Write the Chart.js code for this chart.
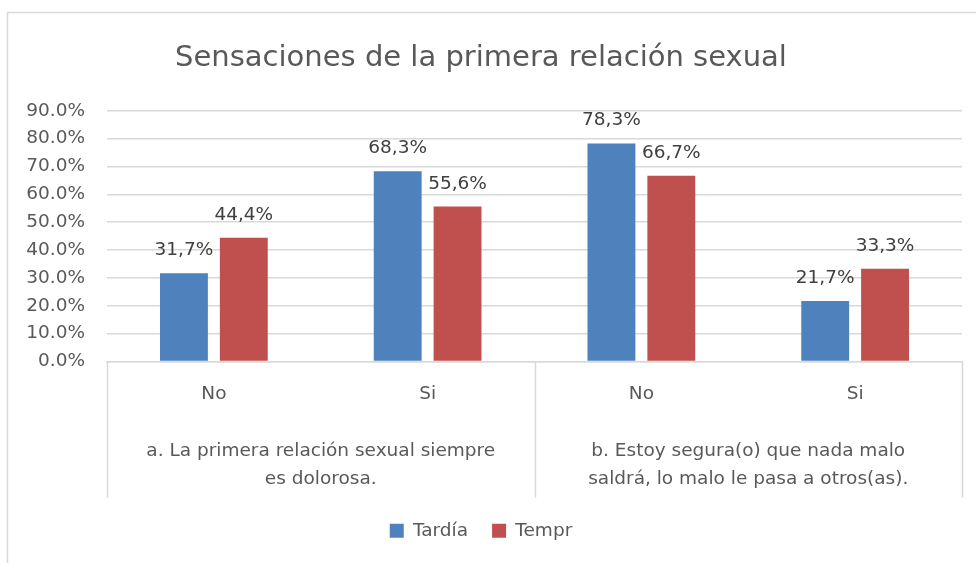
<!DOCTYPE html>
<html><head><meta charset="utf-8">
<script src="https://cdn.jsdelivr.net/npm/chart.js@4.4.1/dist/chart.umd.min.js"></script>
<style>html,body{margin:0;padding:0;background:#fff;overflow:hidden}</style>
</head><body>
<canvas id="c" width="976" height="563" style="display:block;width:976px;height:563px"></canvas>
<script>
const chartTitle = 'Sensaciones de la primera relación sexual';
const categories = ['No', 'Si', 'No', 'Si'];
const groupLabels = [
  ['a. La primera relación sexual siempre', 'es dolorosa.'],
  ['b. Estoy segura(o) que nada malo', 'saldrá, lo malo le pasa a otros(as).']
];
const seriesNames = ['Tardía', 'Tempr'];
const tardia = [31.7, 68.3, 78.3, 21.7];
const tempr = [44.4, 55.6, 66.7, 33.3];
const yMin = 0, yMax = 90, yStep = 10;

const FONT = 'DejaVu Sans';
const TXT = '#595959';
const LINE = '#d9d9d9';

const framePlugin = {
  id: 'frame',
  beforeDraw(chart) {
    const ctx = chart.ctx;
    ctx.save();
    ctx.fillStyle = '#fff';
    ctx.fillRect(0, 0, chart.width, chart.height);
    ctx.strokeStyle = LINE;
    ctx.lineWidth = 1.5;
    ctx.strokeRect(7.5, 12.5, chart.width + 20, chart.height + 20);
    ctx.restore();
  }
};

const groupLinesPlugin = {
  id: 'groupLines',
  afterDraw(chart) {
    const x = chart.scales.x, x2 = chart.scales.x2;
    const ctx = chart.ctx;
    const mid = (x.getPixelForValue(1) + x.getPixelForValue(2)) / 2;
    const xs = [x.left, mid, x.right];
    ctx.save();
    ctx.strokeStyle = LINE;
    ctx.lineWidth = 1.5;
    xs.forEach(px => {
      ctx.beginPath();
      ctx.moveTo(Math.round(px) + 0.5, x.top);
      ctx.lineTo(Math.round(px) + 0.5, x2.bottom);
      ctx.stroke();
    });
    ctx.restore();
  }
};

const dataLabelPlugin = {
  id: 'dataLabels',
  afterDatasetsDraw(chart) {
    const ctx = chart.ctx;
    ctx.save();
    ctx.font = '18.5px "' + FONT + '"';
    ctx.fillStyle = '#404040';
    ctx.textAlign = 'center';
    ctx.textBaseline = 'alphabetic';
    chart.data.datasets.forEach((ds, i) => {
      const meta = chart.getDatasetMeta(i);
      meta.data.forEach((el, j) => {
        const txt = ds.data[j].toFixed(1).replace('.', ',') + '%';
        ctx.fillText(txt, el.x, el.y - 18);
      });
    });
    ctx.restore();
  }
};

new Chart(document.getElementById('c'), {
  type: 'bar',
  data: {
    labels: categories,
    datasets: [
      { label: seriesNames[0], data: tardia, backgroundColor: '#4F81BD', borderWidth: 0 },
      { label: seriesNames[1], data: tempr, backgroundColor: '#C0504D', borderWidth: 0 }
    ]
  },
  options: {
    responsive: false,
    animation: false,
    devicePixelRatio: 1,
    layout: { padding: { left: 0, right: 14, top: 0, bottom: 13 } },
    datasets: { bar: { categoryPercentage: 0.56, barPercentage: 0.8 } },
    plugins: {
      title: {
        display: true, text: chartTitle, color: TXT,
        font: { family: FONT, size: 29, weight: 'normal', lineHeight: 1.2 },
        padding: { top: 41, bottom: 35 }
      },
      legend: {
        position: 'bottom',
        labels: {
          color: TXT, boxWidth: 14, boxHeight: 14, padding: 24,
          font: { family: FONT, size: 18.5 }
        }
      },
      tooltip: { enabled: false }
    },
    scales: {
      y: {
        min: yMin, max: yMax,
        ticks: {
          stepSize: yStep, color: TXT, padding: 22,
          font: { family: FONT, size: 18.5 },
          callback: v => v.toFixed(1) + '%'
        },
        grid: { color: LINE, lineWidth: 1.5, drawTicks: false },
        border: { display: false },
        afterFit: s => { s.width = 107; }
      },
      x: {
        offset: true,
        grid: { display: false, drawTicks: false },
        border: { display: true, color: LINE, width: 1.5 },
        ticks: { color: TXT, padding: 22, font: { family: FONT, size: 18.5 } },
        afterFit: s => { s.height = 51; }
      },
      x2: {
        type: 'category',
        labels: groupLabels,
        offset: true,
        position: 'bottom',
        grid: { display: false, drawTicks: false },
        border: { display: false },
        ticks: { color: TXT, padding: 24, font: { family: FONT, size: 18.5, lineHeight: 1.55 } },
        afterFit: s => { s.height = 85; }
      }
    }
  },
  plugins: [framePlugin, groupLinesPlugin, dataLabelPlugin]
});
</script>
</body></html>
